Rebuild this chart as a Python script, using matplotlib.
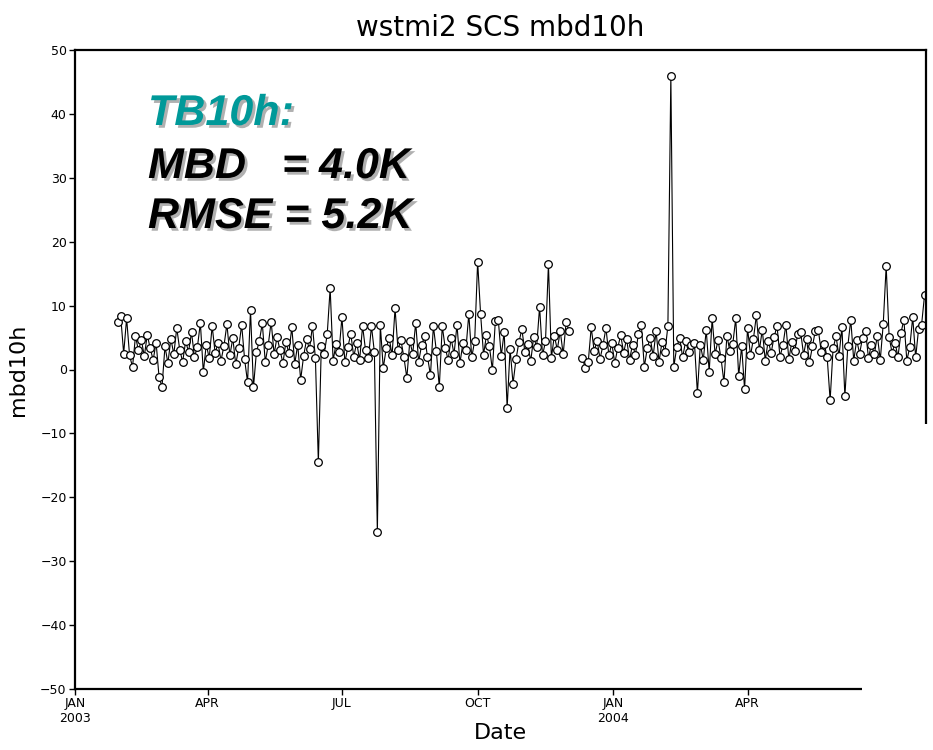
import matplotlib
matplotlib.use('Agg')
import matplotlib.pyplot as plt
import matplotlib.patheffects as pe
from matplotlib.patches import Rectangle
import numpy as np

# mbd10h values, one every 2 days, in two pieces (gap in early Dec 2003)
start_a = '2003-01-30'
vals_a = [7.5, 8.3, 2.5, 8.0, 2.2, 0.4, 5.2, 3.0, 4.6, 2.1,
          5.4, 3.3, 1.5, 4.2, -1.2, -2.7, 3.6, 1.0, 4.8, 2.4,
          6.5, 3.1, 1.2, 4.4, 2.8, 5.8, 2.0, 3.5, 7.3, -0.4,
          3.9, 1.8, 6.8, 2.6, 4.1, 1.4, 3.7, 7.1, 2.2, 4.9,
          0.8, 3.4, 7.0, 1.6, -2.0, 9.3, -2.8, 2.7, 4.5, 7.2,
          1.2, 3.8, 7.5, 2.4, 5.1, 3.0, 1.0, 4.3, 2.6, 6.6,
          0.9, 3.9, -1.6, 2.1, 4.7, 3.2, 6.8, 1.8, -14.5, 3.6,
          2.5, 5.5, 12.7, 1.4, 4.0, 2.8, 8.2, 1.1, 3.5, 5.6,
          2.0, 4.2, 1.5, 6.8, 3.0, 1.8, 6.8, 2.7, -25.5, 7.0,
          0.2, 3.3, 5.0, 2.2, 9.6, 3.1, 4.6, 1.9, -1.3, 4.4,
          2.5, 7.3, 1.2, 3.8, 5.2, 2.0, -0.9, 6.8, 2.9, -2.8,
          6.8, 3.4, 1.5, 4.9, 2.4, 7.0, 1.0, 4.1, 3.0, 8.7,
          1.9, 4.5, 16.9, 8.7, 2.3, 5.4, 3.6, -0.1, 7.6, 7.8,
          2.1, 5.9, -6.0, 3.2, -2.2, 1.6, 4.3, 6.3, 2.8, 4.0,
          1.3, 5.1, 3.5, 9.8, 2.2, 4.4, 16.5, 1.8, 5.3, 3.1,
          6.0, 2.4, 7.4, 6.0]

start_b = '2003-12-11'
vals_b = [1.8, 0.2, 1.2, 6.6, 2.9, 4.5, 1.7, 3.8, 6.5, 2.2,
          4.1, 1.0, 3.4, 5.4, 2.6, 4.8, 1.5, 3.9, 2.3, 5.6,
          7.0, 0.4, 3.3, 5.0, 2.1, 6.0, 1.2, 4.3, 2.7, 6.8,
          46.0, 0.4, 3.5, 5.0, 1.9, 4.4, 2.8, 3.9, 4.2, -3.7,
          3.9, 1.5, 6.2, -0.4, 8.0, 2.4, 4.6, 1.8, -2.0, 5.3,
          2.9, 4.0, 8.0, -1.0, 3.6, -3.1, 6.5, 2.2, 4.8, 8.5,
          3.0, 6.2, 1.4, 4.5, 2.6, 5.1, 6.8, 2.0, 3.8, 7.0,
          1.6, 4.3, 2.9, 5.5, 5.9, 2.3, 4.8, 1.1, 3.6, 6.1,
          6.2, 2.7, 4.0, 1.9, -4.8, 3.3, 5.2, 2.1, 6.6, -4.2,
          3.7, 7.8, 1.4, 4.6, 2.5, 5.0, 6.0, 1.8, 3.9, 2.4,
          5.3, 1.5, 7.1, 16.2, 5.1, 2.6, 4.2, 2.0, 5.7, 7.8,
          1.4, 3.5, 8.2, 1.9, 6.4, 7.0, 11.6]

tick_dates = ['2003-01-01', '2003-04-01', '2003-07-01', '2003-10-01',
              '2004-01-01', '2004-04-01']
tick_labels = ['JAN\n2003', 'APR', 'JUL', 'OCT', 'JAN\n2004', 'APR']
y_ticks = [-50, -40, -30, -20, -10, 0, 10, 20, 30, 40, 50]

fig = plt.figure(figsize=(9.33, 7.5), dpi=100)
ax = fig.add_axes([75 / 933, 61 / 750, 851 / 933, 639 / 750])

for start, vals in [(start_a, vals_a), (start_b, vals_b)]:
    d = np.datetime64(start) + np.arange(len(vals)) * np.timedelta64(2, 'D')
    ax.plot(d, vals, color='black', lw=0.8, marker='o', markersize=5.5,
            markerfacecolor='white', markeredgecolor='black', mew=0.9)

ax.set_xlim(np.datetime64('2003-01-01'), np.datetime64('2004-07-31'))
ax.set_ylim(-50, 50)
ax.set_yticks(y_ticks)
ax.set_xticks(np.array(tick_dates, dtype='datetime64[D]'))
ax.set_xticklabels(tick_labels)
ax.tick_params(direction='out', length=4, width=1, labelsize=9, pad=2)
for s in ax.spines.values():
    s.set_linewidth(1.6)

ax.set_title('wstmi2 SCS mbd10h', fontsize=20, pad=10)
fig.text(500 / 933, 1 - 733 / 750, 'Date', ha='center', va='center', fontsize=16)
fig.text(18 / 933, 1 - 370 / 750, 'mbd10h', ha='center', va='center',
         rotation=90, fontsize=16)

shadow = [pe.SimplePatchShadow(offset=(2, -2), shadow_rgbFace='#a8a8a8', alpha=0.9),
          pe.Normal()]
font = dict(family='Liberation Sans', weight='bold', style='italic', fontsize=31,
            va='baseline', ha='left')
fig.text(148 / 933, 1 - 125 / 750, 'TB10h:', color='#009999', path_effects=shadow, **font)
fig.text(148 / 933, 1 - 178 / 750, 'MBD   = 4.0K', color='black', path_effects=shadow, **font)
fig.text(148 / 933, 1 - 228 / 750, 'RMSE = 5.2K', color='black', path_effects=shadow, **font)

# white box over the lower right corner, as in the slide
fig.patches.append(Rectangle((862 / 933, 0), 71 / 933, 1 - 424 / 750,
                             transform=fig.transFigure, facecolor='white',
                             edgecolor='none', zorder=10))

fig.savefig('out.png', dpi=100)
